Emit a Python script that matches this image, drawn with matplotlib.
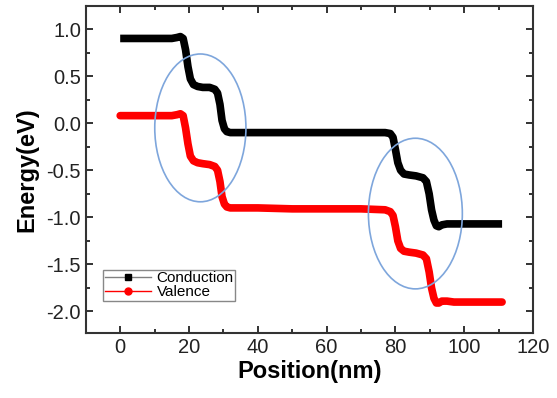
import matplotlib.pyplot as plt
from matplotlib.lines import Line2D
from matplotlib.patches import Ellipse
from matplotlib.ticker import MultipleLocator

plt.rcParams['font.family'] = ['Liberation Sans', 'DejaVu Sans']
plt.rcParams['axes.unicode_minus'] = False

# Conduction band
cond_x = [0, 5, 10, 15, 16.5, 17.5, 18.3, 19.0, 19.7, 20.4, 21.3, 22.5, 24, 26, 27.5,
          28.3, 29.0, 29.6, 30.3, 31.0, 32, 35, 40, 50, 60, 70, 77, 78.5, 79.3,
          80.0, 80.7, 81.5, 82.5, 84, 86, 88, 89.0, 89.8, 90.5, 91.2, 91.9, 92.6,
          93.5, 95, 97, 100, 105, 111]
cond_y = [0.90, 0.90, 0.90, 0.90, 0.91, 0.92, 0.90, 0.78, 0.60, 0.47, 0.41, 0.39, 0.38,
          0.38, 0.36, 0.32, 0.20, 0.03, -0.06, -0.09, -0.10, -0.10, -0.10, -0.10,
          -0.10, -0.10, -0.10, -0.11, -0.15, -0.28, -0.42, -0.50, -0.54, -0.55,
          -0.56, -0.58, -0.62, -0.75, -0.92, -1.03, -1.09, -1.10, -1.08, -1.07,
          -1.07, -1.07, -1.07, -1.07]

# Valence band
val_x = [0, 5, 10, 15, 16.5, 17.5, 18.3, 19.0, 19.7, 20.4, 21.3, 22.5, 24, 26, 27.5,
         28.3, 29.0, 29.6, 30.3, 31.0, 32, 35, 40, 50, 60, 70, 77, 78.5, 79.3,
         80.0, 80.7, 81.5, 82.5, 84, 86, 88, 89.0, 89.8, 90.5, 91.2, 91.9, 92.6,
         93.5, 95, 97, 100, 105, 111]
val_y = [0.08, 0.08, 0.08, 0.08, 0.09, 0.10, 0.08, -0.05, -0.22, -0.35, -0.40, -0.42,
         -0.43, -0.44, -0.46, -0.50, -0.62, -0.78, -0.86, -0.89, -0.90, -0.90,
         -0.90, -0.91, -0.91, -0.91, -0.92, -0.94, -0.98, -1.10, -1.25, -1.33,
         -1.36, -1.37, -1.38, -1.40, -1.44, -1.58, -1.75, -1.86, -1.91, -1.91,
         -1.89, -1.89, -1.90, -1.90, -1.90, -1.90]

# highlighted regions: (center x, center y, width, height)
regions = [(23.3, -0.05, 26.5, 1.57), (85.8, -0.96, 27.3, 1.60)]

fig = plt.figure(figsize=(5.57, 3.98), dpi=100)
ax = fig.add_axes([0.154, 0.163, 0.803, 0.822])

ax.plot(cond_x, cond_y, color='black', lw=5.5, solid_capstyle='butt', zorder=3)
ax.plot(val_x, val_y, color='red', lw=5.5, solid_capstyle='round', zorder=3)

for cx, cy, w, h in regions:
    ax.add_patch(Ellipse((cx, cy), w, h, fill=False, ec='#7ea6dc', lw=1.2, zorder=4))

ax.set_xlim(-10, 120)
ax.set_ylim(-2.23, 1.245)
ax.xaxis.set_major_locator(MultipleLocator(20))
ax.xaxis.set_minor_locator(MultipleLocator(10))
ax.yaxis.set_major_locator(MultipleLocator(0.5))
ax.yaxis.set_minor_locator(MultipleLocator(0.25))
ax.tick_params(which='both', direction='in', top=True, right=True,
               labelsize=14.5, colors='#222222', width=1.3)
ax.tick_params(which='major', length=5)
ax.tick_params(which='minor', length=3)
for s in ax.spines.values():
    s.set_linewidth(1.5)
    s.set_color('#333333')

ax.set_xlabel('Position(nm)', fontsize=17, fontweight='bold', labelpad=2)
ax.set_ylabel('Energy(eV)', fontsize=17, fontweight='bold', labelpad=6)

handles = [Line2D([], [], color='gray', lw=1, marker='s', mfc='black', mec='black', ms=5),
           Line2D([], [], color='red', lw=1, marker='o', mfc='red', mec='red', ms=5)]
leg = ax.legend(handles, ['Conduction', 'Valence'], loc='lower left',
                bbox_to_anchor=(0.032, 0.09), fontsize=11, fancybox=False,
                framealpha=1, edgecolor='#888888', handlelength=3,
                borderpad=0.1, labelspacing=0.0, handletextpad=0.4,
                borderaxespad=0.2)
leg.get_frame().set_linewidth(1)

fig.savefig('out.png', dpi=100)
